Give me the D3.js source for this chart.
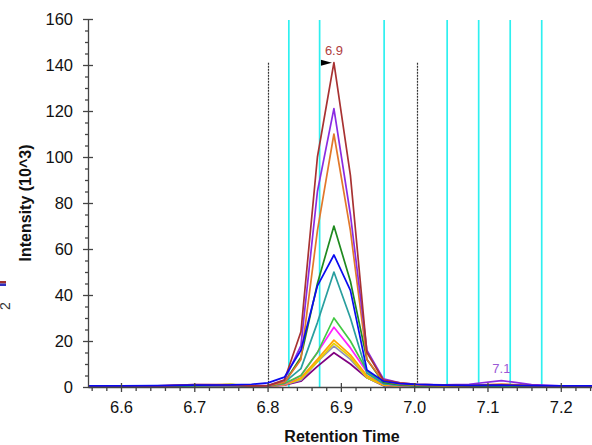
<!DOCTYPE html>
<html>
<head>
<meta charset="utf-8">
<script src="https://cdn.jsdelivr.net/npm/d3@7"></script>
<style>
  body { margin: 0; background: #fff; }
  svg { display: block; font-family: "Liberation Sans", Arial, sans-serif; }
</style>
</head>
<body>
<svg id="chart" width="592" height="445"></svg>
<script>
// retention times of the scans (minutes)
var times = [6.555, 6.6, 6.65, 6.7, 6.75, 6.778, 6.8005, 6.823, 6.8455, 6.868, 6.8905, 6.913,
             6.9355, 6.958, 6.9805, 7.003, 7.04, 7.075, 7.119, 7.16, 7.2, 7.245]

// intensities (10^3) per transition
var brown      = [0.4,0.3,0.4,0.9,0.8,0.5,0.6,3,24,100,141,92,15,3,1.8,1.2,0.8,0.6,0.9,0.6,0.4,0.3]
var violet     = [0.4,0.3,0.5,1.0,0.9,0.6,0.6,3,18,85,121,75,16,3.5,1.8,1.2,0.9,1.2,2.8,1.0,0.5,0.4]
var darkOrange = [0.5,0.4,0.5,1.0,1.0,0.6,0.5,2,12,68,110,68,12,2.5,1.2,0.8,0.5,0.7,1.3,0.6,0.4,0.3]
var green      = [0.3,0.3,0.4,0.7,0.8,0.5,0.5,2,13,45,70,46,12,2,1,0.6,0.4,0.4,0.6,0.4,0.3,0.3]
var teal       = [0.3,0.3,0.3,0.6,0.7,0.4,0.5,2,8,28,50,30,6,1.5,0.8,0.5,0.3,0.3,0.5,0.3,0.2,0.2]
var lightGreen = [0.3,0.3,0.4,0.6,1.0,0.5,0.4,1.5,5,15,30,20,7,1.5,0.8,0.5,0.3,0.3,0.4,0.3,0.2,0.2]
var magenta    = [0.2,0.2,0.3,0.5,0.6,0.4,0.3,1.2,5,15,26,17,6.5,1.3,0.6,0.4,0.3,0.3,0.3,0.2,0.2,0.2]
var yellow     = [0.3,0.3,0.5,0.6,1.2,0.6,0.3,1,3.5,11,19,13,4,0.8,0.4,0.3,0.2,0.2,0.3,0.2,0.2,0.2]
var orange     = [0.2,0.2,0.3,0.5,0.7,0.4,0.3,1,4,12,20.4,14,5,1,0.5,0.4,0.3,0.3,0.3,0.2,0.2,0.2]
var lavender   = [0.2,0.2,0.3,0.4,0.5,0.3,0.3,1,3,11,17.8,12,4,0.8,0.4,0.3,0.2,0.2,0.3,0.2,0.2,0.2]
var plum       = [0.2,0.2,0.3,0.4,0.5,0.3,0.3,0.8,2.5,9,14.9,10,4,0.6,0.3,0.2,0.2,0.2,0.2,0.2,0.2,0.2]
var blue       = [0.5,0.5,0.6,0.8,0.9,1.2,1.8,4.3,16,44,57.4,42,7.4,2.5,1.5,1.1,0.8,0.7,0.8,0.6,0.5,0.5]

// draw order, blue last so it sits on the baseline
var series = [
  {values: plum, color: "#800080"},
  {values: lavender, color: "#9090b8"},
  {values: yellow, color: "#e6cf00"},
  {values: orange, color: "#ffa500"},
  {values: magenta, color: "#ff22ff"},
  {values: lightGreen, color: "#44c844"},
  {values: teal, color: "#299e9e"},
  {values: green, color: "#1f8a1f"},
  {values: darkOrange, color: "#e2782a"},
  {values: violet, color: "#8a2be2"},
  {values: brown, color: "#a83232"},
  {values: blue, color: "#0a0af0"}
]

// marker lines
var cyanLines = [6.829, 6.871, 6.959, 7.045, 7.088, 7.131, 7.174]
var boundaryLines = [6.8005, 7.0045]

// peak annotations
var peaks = [
  {t: 6.8905, v: 141, label: "6.9", color: "#b04040", flag: true},
  {t: 7.119, v: 2.8, label: "7.1", color: "#9b59d6", flag: false}
]

var xTicks = [6.6, 6.7, 6.8, 6.9, 7.0, 7.1, 7.2]
var yTicks = [0, 20, 40, 60, 80, 100, 120, 140, 160]

var plotLeft = 88, plotRight = 592, plotTop = 19, plotBottom = 387

var svg = d3.select("#chart")
var x = d3.scaleLinear().domain([6.555, 7.2426]).range([plotLeft, plotRight])
var y = d3.scaleLinear().domain([0, 160]).range([plotBottom, plotTop])

svg.append("defs").append("clipPath").attr("id", "plot")
  .append("rect").attr("x", plotLeft).attr("y", 0)
  .attr("width", plotRight - plotLeft).attr("height", plotBottom + 1)

// cyan markers
svg.append("g").selectAll("line").data(cyanLines).enter().append("line")
  .attr("x1", d => x(d)).attr("x2", d => x(d))
  .attr("y1", plotTop + 1).attr("y2", plotBottom)
  .attr("stroke", "#2ef0f0").attr("stroke-width", 1.7)

// integration boundaries
svg.append("g").selectAll("line").data(boundaryLines).enter().append("line")
  .attr("x1", d => Math.round(x(d)) + 0.5).attr("x2", d => Math.round(x(d)) + 0.5)
  .attr("y1", y(141)).attr("y2", plotBottom)
  .attr("stroke", "#333").attr("stroke-width", 1.2).attr("stroke-dasharray", "2,1")

// chromatograms
var line = d3.line().x((d, i) => x(times[i])).y(d => y(d))
svg.append("g").attr("clip-path", "url(#plot)")
  .selectAll("path").data(series).enter().append("path")
  .attr("d", d => line(d.values))
  .attr("fill", "none")
  .attr("stroke", d => d.color)
  .attr("stroke-width", 1.7)
  .attr("stroke-linejoin", "round")

// axes
var minorX = d3.range(6.56, 7.25, 0.02).filter(t => Math.abs(t * 10 - Math.round(t * 10)) > 0.01)
var minorY = d3.range(5, 160, 5).filter(v => v % 20 != 0)

var xAxis = svg.append("g").attr("transform", "translate(0," + plotBottom + ")")
  .call(d3.axisBottom(x).tickValues(xTicks).tickFormat(d3.format(".1f")).tickSize(0).tickPadding(14))
xAxis.selectAll(".tick line").attr("y1", -4).attr("y2", 5)
svg.append("g").attr("transform", "translate(0," + plotBottom + ")")
  .call(d3.axisBottom(x).tickValues(minorX).tickFormat("").tickSize(4))
  .select(".domain").remove()

var yAxis = svg.append("g").attr("transform", "translate(" + plotLeft + ",0)")
  .call(d3.axisLeft(y).tickValues(yTicks).tickSize(0).tickPadding(15))
yAxis.selectAll(".tick line").attr("x1", -5).attr("x2", 5)
svg.append("g").attr("transform", "translate(" + plotLeft + ",0)")
  .call(d3.axisLeft(y).tickValues(minorY).tickFormat("").tickSize(3))
  .select(".domain").remove()

svg.selectAll(".domain, .tick line").attr("stroke", "#444").attr("stroke-width", 1.3)
svg.selectAll(".tick text").attr("font-size", 16.5).attr("fill", "#111")
  .attr("font-family", "Liberation Sans, Arial, sans-serif")

// axis titles
svg.append("text").attr("x", 342).attr("y", 442).attr("text-anchor", "middle")
  .attr("font-size", 16).attr("font-weight", "bold").attr("fill", "#111").text("Retention Time")
svg.append("text").attr("transform", "translate(31,203) rotate(-90)").attr("text-anchor", "middle")
  .attr("font-size", 16).attr("font-weight", "bold").attr("fill", "#111").text("Intensity (10^3)")

// peak labels
svg.selectAll(".peak").data(peaks).enter().append("text")
  .attr("class", "peak")
  .attr("x", d => x(d.t)).attr("y", d => y(d.v) - 8)
  .attr("text-anchor", "middle").attr("font-size", 13)
  .attr("fill", d => d.color).text(d => d.label)
var flag = peaks.filter(d => d.flag)[0]
svg.append("path")
  .attr("d", "M" + (x(flag.t) - 13) + "," + (y(flag.v) - 3) + "L" + (x(flag.t) - 2) + "," + y(flag.v) +
             "L" + (x(flag.t) - 13) + "," + (y(flag.v) + 3) + "Z")
  .attr("fill", "#000")

// clipped legend remnant at the left edge
svg.append("rect").attr("x", 0).attr("y", 281).attr("width", 6).attr("height", 2.5).attr("fill", "#a03030")
svg.append("rect").attr("x", 0).attr("y", 283.5).attr("width", 6).attr("height", 2.5).attr("fill", "#3030c0")
svg.append("text").attr("transform", "translate(10,306) rotate(-90)").attr("text-anchor", "middle")
  .attr("font-size", 14).attr("fill", "#333").text("2")
</script>
</body>
</html>
